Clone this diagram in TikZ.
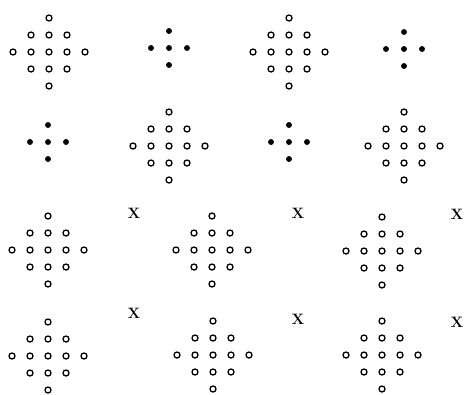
\documentclass[tikz,border=0pt]{standalone}
\usepackage{tikz}

\begin{document}
\begin{tikzpicture}
	[x=1pt, y=-1pt,
	bpoint/.style={inner sep = 0pt, minimum size = 5pt, circle,draw,fill=black, line width=0.8pt},
	wpoint/.style={inner sep = 0pt, minimum size = 6pt, circle,draw,fill=white, line width=1.3pt},
	cross/.style={inner sep = 0pt, font=\fontsize{15}{17}\selectfont\bfseries}]

	\useasboundingbox (0,0) rectangle (465,394);

	% first row
	\begin{scope}[shift={(49,52)}, x=18pt, y=-17pt]
		\foreach \i/\j in {0/-2,-1/-1,0/-1,1/-1,-2/0,-1/0,0/0,1/0,2/0,-1/1,0/1,1/1,0/2}
			\node[wpoint] (a\i\j) at (\i,\j) {};
	\end{scope}
	\begin{scope}[shift={(169,48)}, x=18pt, y=-17pt]
		\foreach \i/\j in {0/-1,-1/0,0/0,1/0,0/1}
			\node[bpoint] (b\i\j) at (\i,\j) {};
	\end{scope}
	\begin{scope}[shift={(289,52)}, x=18pt, y=-17pt]
		\foreach \i/\j in {0/-2,-1/-1,0/-1,1/-1,-2/0,-1/0,0/0,1/0,2/0,-1/1,0/1,1/1,0/2}
			\node[wpoint] (c\i\j) at (\i,\j) {};
	\end{scope}
	\begin{scope}[shift={(404,49)}, x=18pt, y=-17pt]
		\foreach \i/\j in {0/-1,-1/0,0/0,1/0,0/1}
			\node[bpoint] (d\i\j) at (\i,\j) {};
	\end{scope}

	% second row
	\begin{scope}[shift={(48,142)}, x=18pt, y=-17pt]
		\foreach \i/\j in {0/-1,-1/0,0/0,1/0,0/1}
			\node[bpoint] (e\i\j) at (\i,\j) {};
	\end{scope}
	\begin{scope}[shift={(169,146)}, x=18pt, y=-17pt]
		\foreach \i/\j in {0/-2,-1/-1,0/-1,1/-1,-2/0,-1/0,0/0,1/0,2/0,-1/1,0/1,1/1,0/2}
			\node[wpoint] (f\i\j) at (\i,\j) {};
	\end{scope}
	\begin{scope}[shift={(289,142)}, x=18pt, y=-17pt]
		\foreach \i/\j in {0/-1,-1/0,0/0,1/0,0/1}
			\node[bpoint] (g\i\j) at (\i,\j) {};
	\end{scope}
	\begin{scope}[shift={(404,146)}, x=18pt, y=-17pt]
		\foreach \i/\j in {0/-2,-1/-1,0/-1,1/-1,-2/0,-1/0,0/0,1/0,2/0,-1/1,0/1,1/1,0/2}
			\node[wpoint] (h\i\j) at (\i,\j) {};
	\end{scope}

	% third row
	\begin{scope}[shift={(48,250)}, x=18pt, y=-17pt]
		\foreach \i/\j in {0/-2,-1/-1,0/-1,1/-1,-2/0,-1/0,0/0,1/0,2/0,-1/1,0/1,1/1,0/2}
			\node[wpoint] (i\i\j) at (\i,\j) {};
	\end{scope}
	\begin{scope}[shift={(212,250)}, x=18pt, y=-17pt]
		\foreach \i/\j in {0/-2,-1/-1,0/-1,1/-1,-2/0,-1/0,0/0,1/0,2/0,-1/1,0/1,1/1,0/2}
			\node[wpoint] (j\i\j) at (\i,\j) {};
	\end{scope}
	\begin{scope}[shift={(382,251)}, x=18pt, y=-17pt]
		\foreach \i/\j in {0/-2,-1/-1,0/-1,1/-1,-2/0,-1/0,0/0,1/0,2/0,-1/1,0/1,1/1,0/2}
			\node[wpoint] (k\i\j) at (\i,\j) {};
	\end{scope}
	\node[cross] (x1) at (134,213) {X};
	\node[cross] (x2) at (298,213) {X};
	\node[cross] (x3) at (457,214) {X};

	% fourth row
	\begin{scope}[shift={(48,356)}, x=18pt, y=-17pt]
		\foreach \i/\j in {0/-2,-1/-1,0/-1,1/-1,-2/0,-1/0,0/0,1/0,2/0,-1/1,0/1,1/1,0/2}
			\node[wpoint] (l\i\j) at (\i,\j) {};
	\end{scope}
	\begin{scope}[shift={(213,355)}, x=18pt, y=-17pt]
		\foreach \i/\j in {0/-2,-1/-1,0/-1,1/-1,-2/0,-1/0,0/0,1/0,2/0,-1/1,0/1,1/1,0/2}
			\node[wpoint] (m\i\j) at (\i,\j) {};
	\end{scope}
	\begin{scope}[shift={(382,355)}, x=18pt, y=-17pt]
		\foreach \i/\j in {0/-2,-1/-1,0/-1,1/-1,-2/0,-1/0,0/0,1/0,2/0,-1/1,0/1,1/1,0/2}
			\node[wpoint] (n\i\j) at (\i,\j) {};
	\end{scope}
	\node[cross] (x4) at (134,313) {X};
	\node[cross] (x5) at (298,319) {X};
	\node[cross] (x6) at (457,322) {X};

\end{tikzpicture}
\end{document}
